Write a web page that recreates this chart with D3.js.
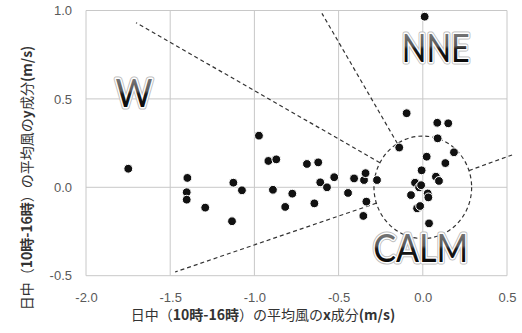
<!DOCTYPE html>
<html>
<head>
<meta charset="utf-8">
<script src="https://cdn.jsdelivr.net/npm/d3@7"></script>
<style>
  body { margin: 0; background: #fff; }
  svg { display: block; }
  .tick text { font-family: "Liberation Sans", Arial, sans-serif; font-size: 13px; fill: #595959; }
  .axis-title { font-family: "Noto Sans CJK JP", sans-serif; font-size: 14px; fill: #333; }
  .big { font-family: Lato, "Open Sans", sans-serif; font-size: 38px; }
</style>
</head>
<body>
<div id="chart"></div>
<script>
// mean daytime wind components (m/s)
const windX = [-1.749, -1.398, -1.402, -1.402, -1.292, -1.125, -1.074, -1.133, -0.973, -0.917,
  -0.870, -0.890, -0.775, -0.817, -0.688, -0.621, -0.609, -0.569, -0.644, -0.526,
  -0.444, -0.408, -0.349, -0.340, -0.272, -0.335, -0.353, 0.011, -0.096, 0.086,
  0.151, -0.140, 0.088, 0.185, 0.023, 0.134, -0.007, 0.078, 0.096, -0.046,
  -0.022, -0.070, 0.029, 0.033, -0.034, -0.016, 0.037, -0.010];
const windY = [0.105, 0.053, -0.028, -0.070, -0.115, 0.026, -0.017, -0.192, 0.292, 0.149,
  0.158, -0.014, -0.036, -0.111, 0.132, 0.141, 0.028, 0.000, -0.091, 0.057,
  -0.032, 0.050, 0.041, 0.080, 0.041, -0.081, -0.162, 0.965, 0.419, 0.365,
  0.362, 0.225, 0.277, 0.198, 0.173, 0.137, 0.096, 0.060, 0.036, 0.026,
  0.000, -0.044, -0.035, -0.057, -0.119, -0.106, -0.204, 0.012];

const xTicks = [-2.0, -1.5, -1.0, -0.5, 0.0, 0.5];
const yTicks = [-0.5, 0.0, 0.5, 1.0];

// sector boundary lines (outer ends, data units) and calm radius
const sectorX = [-1.703, -0.599, 0.530, -1.471];
const sectorY = [0.931, 0.984, 0.183, -0.479];
const calmRadius = 0.29;

const labelText = ["W", "NNE", "CALM"];
const labelX = [-1.715, 0.077, -0.012];
const labelY = [0.456, 0.710, -0.421];
const labelWidth = [37, 68, 95];

const width = 522, height = 333;
const margin = { top: 10.5, right: 15, bottom: 57.3, left: 86 };

const svg = d3.select('#chart').append('svg')
  .attr('width', width)
  .attr('height', height);

const x = d3.scaleLinear().domain([-2, 0.5]).range([margin.left, width - margin.right]);
const y = d3.scaleLinear().domain([-0.5, 1]).range([height - margin.bottom, margin.top]);

const defs = svg.append('defs');
const grad = defs.append('linearGradient')
  .attr('id', 'wordart')
  .attr('x1', 0).attr('y1', 0).attr('x2', 0).attr('y2', 1);
grad.append('stop').attr('offset', '0%').attr('stop-color', '#8a8a8a');
grad.append('stop').attr('offset', '48%').attr('stop-color', '#5a5a5a');
grad.append('stop').attr('offset', '55%').attr('stop-color', '#1a1a1a');
grad.append('stop').attr('offset', '100%').attr('stop-color', '#000');

// gridlines
svg.append('g')
  .selectAll('line')
  .data(xTicks)
  .join('line')
  .attr('x1', d => x(d)).attr('x2', d => x(d))
  .attr('y1', y(-0.5)).attr('y2', y(1))
  .attr('stroke', '#c8c8c8');

svg.append('g')
  .selectAll('line')
  .data(yTicks)
  .join('line')
  .attr('x1', x(-2)).attr('x2', x(0.5))
  .attr('y1', d => y(d)).attr('y2', d => y(d))
  .attr('stroke', '#c8c8c8');

// axes (labels only)
svg.append('g')
  .attr('transform', `translate(0,${y(-0.5)})`)
  .call(d3.axisBottom(x).tickValues(xTicks).tickSize(0).tickPadding(17).tickFormat(d => d.toFixed(1)))
  .call(g => g.select('.domain').remove());

svg.append('g')
  .attr('transform', `translate(${x(-2)},0)`)
  .call(d3.axisLeft(y).tickValues(yTicks).tickSize(0).tickPadding(14).tickFormat(d => d.toFixed(1)))
  .call(g => g.select('.domain').remove());

// sector lines, from the calm circle outward
const sectors = sectorX.map((sx, i) => {
  const len = Math.hypot(sx, sectorY[i]);
  return { x0: sx / len * calmRadius, y0: sectorY[i] / len * calmRadius, x1: sx, y1: sectorY[i] };
});

svg.append('g')
  .selectAll('line')
  .data(sectors)
  .join('line')
  .attr('x1', d => x(d.x0)).attr('y1', d => y(d.y0))
  .attr('x2', d => x(d.x1)).attr('y2', d => y(d.y1))
  .attr('stroke', '#333')
  .attr('stroke-width', 1.2)
  .attr('stroke-dasharray', '4,3');

svg.append('ellipse')
  .attr('cx', x(0)).attr('cy', y(0))
  .attr('rx', x(calmRadius) - x(0))
  .attr('ry', y(0) - y(calmRadius))
  .attr('fill', 'none')
  .attr('stroke', '#333')
  .attr('stroke-width', 1.2)
  .attr('stroke-dasharray', '4,3');

// points
svg.append('g')
  .selectAll('circle')
  .data(windX.map((v, i) => [v, windY[i]]))
  .join('circle')
  .attr('cx', d => x(d[0]))
  .attr('cy', d => y(d[1]))
  .attr('r', 4.4)
  .attr('fill', '#111')
  .attr('stroke', '#fff')
  .attr('stroke-width', 1);

// sector labels
const labels = svg.append('g')
  .selectAll('g')
  .data(labelText.map((t, i) => ({ t, x: labelX[i], y: labelY[i], w: labelWidth[i] })))
  .join('g');

labels.append('text')
  .attr('class', 'big')
  .attr('x', d => x(d.x)).attr('y', d => y(d.y))
  .attr('text-anchor', 'middle')
  .attr('textLength', d => d.w)
  .attr('lengthAdjust', 'spacingAndGlyphs')
  .attr('fill', 'none')
  .attr('stroke', '#bdbdbd')
  .attr('stroke-width', 5)
  .attr('stroke-linejoin', 'round')
  .text(d => d.t);

labels.append('text')
  .attr('class', 'big')
  .attr('x', d => x(d.x)).attr('y', d => y(d.y))
  .attr('text-anchor', 'middle')
  .attr('textLength', d => d.w)
  .attr('lengthAdjust', 'spacingAndGlyphs')
  .attr('fill', 'url(#wordart)')
  .attr('stroke', '#fff')
  .attr('stroke-width', 3)
  .attr('stroke-linejoin', 'round')
  .attr('paint-order', 'stroke')
  .text(d => d.t);

// axis titles
function titleParts(sel, letter) {
  const parts = [["日中（", 400], ["10時-16時", 700], ["）の平均風の", 400], [letter, 700], ["成分", 400], ["(m/s)", 700]];
  parts.forEach(p => sel.append('tspan').attr('font-weight', p[1]).text(p[0]));
}

svg.append('text')
  .attr('class', 'axis-title')
  .attr('x', 263).attr('y', 320)
  .attr('text-anchor', 'middle')
  .call(titleParts, 'x');

svg.append('text')
  .attr('class', 'axis-title')
  .attr('transform', 'translate(32,178) rotate(-90)')
  .attr('text-anchor', 'middle')
  .call(titleParts, 'y');
</script>
</body>
</html>
